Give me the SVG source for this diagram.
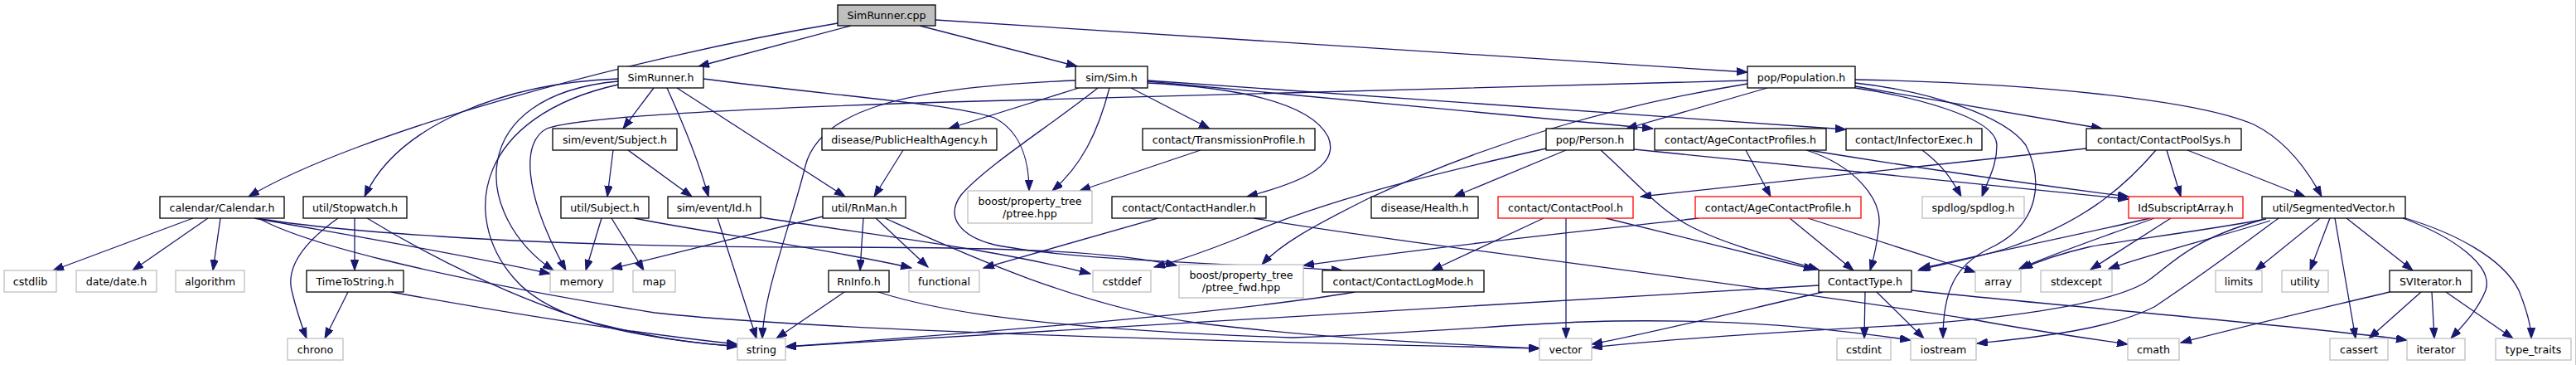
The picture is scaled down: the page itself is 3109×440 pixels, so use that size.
<svg xmlns="http://www.w3.org/2000/svg" width="3109" height="440" viewBox="0 0 3109 440">
<style>
.nd rect{fill:#fff;stroke:#000;stroke-width:1.3}
.gy rect{fill:#fff;stroke:#bfbfbf;stroke-width:1.3}
.rd rect{fill:#fff;stroke:#ff0000;stroke-width:1.3}
.rt rect{fill:#bfbfbf;stroke:#000;stroke-width:1.3}
text{font-family:"DejaVu Sans","Liberation Sans",sans-serif;font-size:12.65px;fill:#000;text-anchor:middle}
#edges path{fill:none;stroke:#191970;stroke-width:1.3;marker-end:url(#ah)}
</style>
<defs>
<marker id="ah" markerUnits="userSpaceOnUse" markerWidth="14" markerHeight="10" refX="13" refY="4.7" orient="auto">
<path d="M0,0 L13,4.7 L0,9.4 z" fill="#191970" stroke="#191970" stroke-width="1"/>
</marker>
</defs>
<rect x="0" y="0" width="3109" height="440" fill="#fff"/>
<line x1="3108.5" y1="0" x2="3108.5" y2="440" stroke="#c8c8c8" stroke-width="1"/>
<g id="edges">
<path d="M1011,28 C760,70 430,160 300,237"/>
<path d="M1027,31 L843,80"/>
<path d="M1110,31 L1300,80"/>
<path d="M1129,24 L2109,87"/>
<path d="M789,106 L752,155"/>
<path d="M746,95 C610,100 480,150 440,237"/>
<path d="M746,98 C560,115 570,260 668,326"/>
<path d="M746,102 C575,140 555,260 620,335 C670,395 800,410 890,418"/>
<path d="M805,106 C825,150 845,200 855,237"/>
<path d="M817,106 L1020,237"/>
<path d="M849,95 C1000,115 1150,125 1200,142 C1235,160 1242,200 1242,230"/>
<path d="M1298,97 C1100,105 990,130 972,200 C955,270 922,350 920,408"/>
<path d="M1302,106 L1145,155"/>
<path d="M1325,106 C1270,150 1190,200 1160,235 C1140,262 1160,285 1200,295 C1300,315 1500,318 1620,326"/>
<path d="M1339,106 C1325,160 1305,200 1270,230"/>
<path d="M1365,106 L1460,155"/>
<path d="M1385,98 L1995,155"/>
<path d="M1385,97 L2228,156"/>
<path d="M1385,100 C1480,105 1580,120 1603,165 C1618,200 1570,220 1505,237"/>
<path d="M2109,97 L1180,122 C900,130 700,140 660,155 C630,170 630,230 683,326"/>
<path d="M2109,101 C1950,127 1800,170 1650,240 C1580,275 1545,295 1523,319"/>
<path d="M2133,106 L1963,155"/>
<path d="M2239,104 L2537,155"/>
<path d="M2239,106 C2300,115 2410,140 2410,175 C2410,200 2400,215 2392,237"/>
<path d="M2239,96 C2450,100 2650,120 2720,150 C2760,170 2785,205 2802,237"/>
<path d="M2239,100 C2330,110 2420,140 2445,175 C2465,215 2465,270 2400,300 C2360,320 2345,350 2345,408"/>
<path d="M1890,181 L1755,237"/>
<path d="M1866,179 C1750,205 1600,240 1500,285 C1450,305 1420,315 1393,322"/>
<path d="M1932,181 C1970,215 2000,250 2035,270 C2080,295 2150,312 2195,325"/>
<path d="M1972,180 L2569,240"/>
<path d="M2107,181 L2137,237"/>
<path d="M2180,181 C2240,200 2270,240 2268,270 C2266,290 2262,310 2257,326"/>
<path d="M2183,181 C2300,200 2450,222 2569,237"/>
<path d="M2320,181 C2345,200 2355,215 2367,237"/>
<path d="M2518,179 L1980,237"/>
<path d="M2615,181 L2632,237"/>
<path d="M2640,181 L2782,237"/>
<path d="M2602,181 C2560,230 2510,270 2420,300 C2370,315 2335,320 2315,326"/>
<path d="M1397,263 L1187,323"/>
<path d="M1513,263 C1700,295 2100,340 2380,385 C2450,398 2520,408 2568,415"/>
<path d="M1863,263 L1728,326"/>
<path d="M1890,263 L1890,408"/>
<path d="M1938,263 L2190,325"/>
<path d="M2050,263 C1900,280 1750,295 1573,320"/>
<path d="M2160,263 L2237,326"/>
<path d="M2182,263 L2384,328"/>
<path d="M2595,263 C2500,285 2400,305 2317,324"/>
<path d="M2600,263 C2540,285 2480,305 2437,324"/>
<path d="M2620,263 L2523,325"/>
<path d="M2740,266 C2680,285 2600,305 2545,324"/>
<path d="M2735,264 C2650,280 2560,290 2520,298 C2490,305 2460,315 2440,324"/>
<path d="M2730,265 C2640,290 2620,320 2590,340 C2540,370 2400,385 2300,392 C2150,400 2000,410 1921,419"/>
<path d="M2750,263 C2700,300 2660,330 2600,370 C2540,400 2440,408 2386,414"/>
<path d="M2800,263 L2722,326"/>
<path d="M2812,263 L2788,326"/>
<path d="M2818,263 L2843,408"/>
<path d="M2832,263 L2912,326"/>
<path d="M2900,263 C2960,285 3010,320 3000,350 C2990,375 2970,395 2958,408"/>
<path d="M2903,263 C2960,280 3020,310 3040,350 C3050,375 3055,395 3055,408"/>
<path d="M2922,352 L2859,408"/>
<path d="M2935,352 L2938,408"/>
<path d="M2952,352 L3033,408"/>
<path d="M2884,352 C2800,372 2700,395 2632,413"/>
<path d="M2195,344 L948,418"/>
<path d="M2200,352 C2100,375 2000,400 1921,415"/>
<path d="M2251,352 L2250,408"/>
<path d="M2265,352 L2322,408"/>
<path d="M2307,350 C2500,370 2800,395 2905,410"/>
<path d="M1635,352 C1500,375 1200,400 948,418"/>
<path d="M1449,181 L1303,230"/>
<path d="M1090,181 L1055,237"/>
<path d="M740,181 L733,237"/>
<path d="M758,181 L835,237"/>
<path d="M726,263 L707,326"/>
<path d="M738,263 L777,326"/>
<path d="M765,263 C850,280 1000,300 1100,323"/>
<path d="M866,263 L913,408"/>
<path d="M918,262 C1050,283 1200,300 1316,330"/>
<path d="M1042,263 L1038,326"/>
<path d="M1057,263 L1120,322"/>
<path d="M993,261 L738,324"/>
<path d="M1068,263 C1150,300 1300,370 1450,390 C1600,408 1750,415 1858,420"/>
<path d="M1019,352 L937,408"/>
<path d="M1060,352 C1100,365 1200,395 1560,407 C1750,400 1850,388 1950,387 C2100,385 2200,395 2306,410"/>
<path d="M233,263 L64,326"/>
<path d="M251,263 L160,326"/>
<path d="M266,263 L257,326"/>
<path d="M307,263 C400,280 550,305 664,330"/>
<path d="M310,263 C380,275 600,298 1000,298 C1250,298 1350,305 1420,320"/>
<path d="M312,263 C360,290 500,330 790,377 C1000,400 1500,412 1858,420"/>
<path d="M408,263 C370,290 345,320 352,350 C358,375 365,395 370,408"/>
<path d="M428,263 L428,326"/>
<path d="M443,263 C520,310 620,360 720,390 C800,410 850,415 890,417"/>
<path d="M420,352 L392,408"/>
<path d="M472,352 C600,375 750,400 890,415"/>
</g>
<g id="n_cpp" class="rt"><rect x="1011" y="6" width="118" height="25"/><text x="1070" y="23">SimRunner.cpp</text></g>
<g id="n_simrunner" class="nd"><rect x="746" y="80" width="103" height="26"/><text x="797.5" y="97.5">SimRunner.h</text></g>
<g id="n_sim" class="nd"><rect x="1298" y="80" width="87" height="26"/><text x="1341.5" y="97.5">sim/Sim.h</text></g>
<g id="n_population" class="nd"><rect x="2109" y="80" width="130" height="26"/><text x="2174" y="97.5">pop/Population.h</text></g>
<g id="n_evsubject" class="nd"><rect x="667" y="155" width="150" height="26"/><text x="742" y="172.5">sim/event/Subject.h</text></g>
<g id="n_pha" class="nd"><rect x="992" y="155" width="211" height="26"/><text x="1097.5" y="172.5">disease/PublicHealthAgency.h</text></g>
<g id="n_tp" class="nd"><rect x="1379" y="155" width="208" height="26"/><text x="1483" y="172.5">contact/TransmissionProfile.h</text></g>
<g id="n_person" class="nd"><rect x="1866" y="155" width="106" height="26"/><text x="1919" y="172.5">pop/Person.h</text></g>
<g id="n_acps" class="nd"><rect x="1997" y="155" width="207" height="26"/><text x="2100.5" y="172.5">contact/AgeContactProfiles.h</text></g>
<g id="n_ie" class="nd"><rect x="2228" y="155" width="164" height="26"/><text x="2310" y="172.5">contact/InfectorExec.h</text></g>
<g id="n_cps" class="nd"><rect x="2518" y="155" width="187" height="26"/><text x="2611.5" y="172.5">contact/ContactPoolSys.h</text></g>
<g id="n_calendar" class="nd"><rect x="193" y="237" width="150" height="26"/><text x="268" y="254.5">calendar/Calendar.h</text></g>
<g id="n_stopwatch" class="nd"><rect x="366" y="237" width="125" height="26"/><text x="428.5" y="254.5">util/Stopwatch.h</text></g>
<g id="n_usubject" class="nd"><rect x="677" y="237" width="106" height="26"/><text x="730" y="254.5">util/Subject.h</text></g>
<g id="n_id" class="nd"><rect x="806" y="237" width="112" height="26"/><text x="862" y="254.5">sim/event/Id.h</text></g>
<g id="n_rnman" class="nd"><rect x="993" y="237" width="100" height="26"/><text x="1043" y="254.5">util/RnMan.h</text></g>
<g id="n_ptree" class="gy"><rect x="1168" y="230" width="150" height="39"/><text x="1243" y="246.5">boost/property_tree</text><text x="1243" y="261.5">/ptree.hpp</text></g>
<g id="n_ch" class="nd"><rect x="1342" y="237" width="186" height="26"/><text x="1435" y="254.5">contact/ContactHandler.h</text></g>
<g id="n_health" class="nd"><rect x="1655" y="237" width="129" height="26"/><text x="1719.5" y="254.5">disease/Health.h</text></g>
<g id="n_cp" class="rd"><rect x="1808" y="237" width="163" height="26"/><text x="1889.5" y="254.5">contact/ContactPool.h</text></g>
<g id="n_acp" class="rd"><rect x="2046" y="237" width="200" height="26"/><text x="2146" y="254.5">contact/AgeContactProfile.h</text></g>
<g id="n_spdlog" class="gy"><rect x="2320" y="237" width="123" height="26"/><text x="2381.5" y="254.5">spdlog/spdlog.h</text></g>
<g id="n_isa" class="rd"><rect x="2569" y="237" width="138" height="26"/><text x="2638" y="254.5">IdSubscriptArray.h</text></g>
<g id="n_sv" class="nd"><rect x="2730" y="237" width="173" height="26"/><text x="2816.5" y="254.5">util/SegmentedVector.h</text></g>
<g id="n_cstdlib" class="gy"><rect x="5" y="326" width="63" height="26"/><text x="36.5" y="343.5">cstdlib</text></g>
<g id="n_date" class="gy"><rect x="92" y="326" width="97" height="26"/><text x="140.5" y="343.5">date/date.h</text></g>
<g id="n_algorithm" class="gy"><rect x="212" y="326" width="83" height="26"/><text x="253.5" y="343.5">algorithm</text></g>
<g id="n_tts" class="nd"><rect x="370" y="326" width="117" height="26"/><text x="428.5" y="343.5">TimeToString.h</text></g>
<g id="n_memory" class="gy"><rect x="664" y="326" width="76" height="26"/><text x="702" y="343.5">memory</text></g>
<g id="n_map" class="gy"><rect x="764" y="326" width="51" height="26"/><text x="789.5" y="343.5">map</text></g>
<g id="n_rninfo" class="nd"><rect x="1000" y="326" width="73" height="26"/><text x="1036.5" y="343.5">RnInfo.h</text></g>
<g id="n_functional" class="gy"><rect x="1097" y="326" width="85" height="26"/><text x="1139.5" y="343.5">functional</text></g>
<g id="n_cstddef" class="gy"><rect x="1319" y="326" width="70" height="26"/><text x="1354" y="343.5">cstddef</text></g>
<g id="n_ptreefwd" class="gy"><rect x="1423" y="319" width="150" height="40"/><text x="1498" y="335.5">boost/property_tree</text><text x="1498" y="350.5">/ptree_fwd.hpp</text></g>
<g id="n_clm" class="nd"><rect x="1596" y="326" width="195" height="26"/><text x="1693.5" y="343.5">contact/ContactLogMode.h</text></g>
<g id="n_ct" class="nd"><rect x="2195" y="326" width="112" height="26"/><text x="2251" y="343.5">ContactType.h</text></g>
<g id="n_array" class="gy"><rect x="2384" y="326" width="55" height="26"/><text x="2411.5" y="343.5">array</text></g>
<g id="n_stdexcept" class="gy"><rect x="2463" y="326" width="86" height="26"/><text x="2506" y="343.5">stdexcept</text></g>
<g id="n_limits" class="gy"><rect x="2674" y="326" width="56" height="26"/><text x="2702" y="343.5">limits</text></g>
<g id="n_utility" class="gy"><rect x="2754" y="326" width="56" height="26"/><text x="2782" y="343.5">utility</text></g>
<g id="n_svi" class="nd"><rect x="2884" y="326" width="99" height="26"/><text x="2933.5" y="343.5">SVIterator.h</text></g>
<g id="n_chrono" class="gy"><rect x="347" y="408" width="67" height="26"/><text x="380.5" y="425.5">chrono</text></g>
<g id="n_string" class="gy"><rect x="890" y="408" width="58" height="26"/><text x="919" y="425.5">string</text></g>
<g id="n_vector" class="gy"><rect x="1858" y="408" width="63" height="26"/><text x="1889.5" y="425.5">vector</text></g>
<g id="n_cstdint" class="gy"><rect x="2217" y="408" width="65" height="26"/><text x="2249.5" y="425.5">cstdint</text></g>
<g id="n_iostream" class="gy"><rect x="2306" y="408" width="79" height="26"/><text x="2345.5" y="425.5">iostream</text></g>
<g id="n_cmath" class="gy"><rect x="2568" y="408" width="62" height="26"/><text x="2599" y="425.5">cmath</text></g>
<g id="n_cassert" class="gy"><rect x="2812" y="408" width="70" height="26"/><text x="2847" y="425.5">cassert</text></g>
<g id="n_iterator" class="gy"><rect x="2905" y="408" width="70" height="26"/><text x="2940" y="425.5">iterator</text></g>
<g id="n_typetraits" class="gy"><rect x="3012" y="408" width="91" height="26"/><text x="3057.5" y="425.5">type_traits</text></g>
</svg>
